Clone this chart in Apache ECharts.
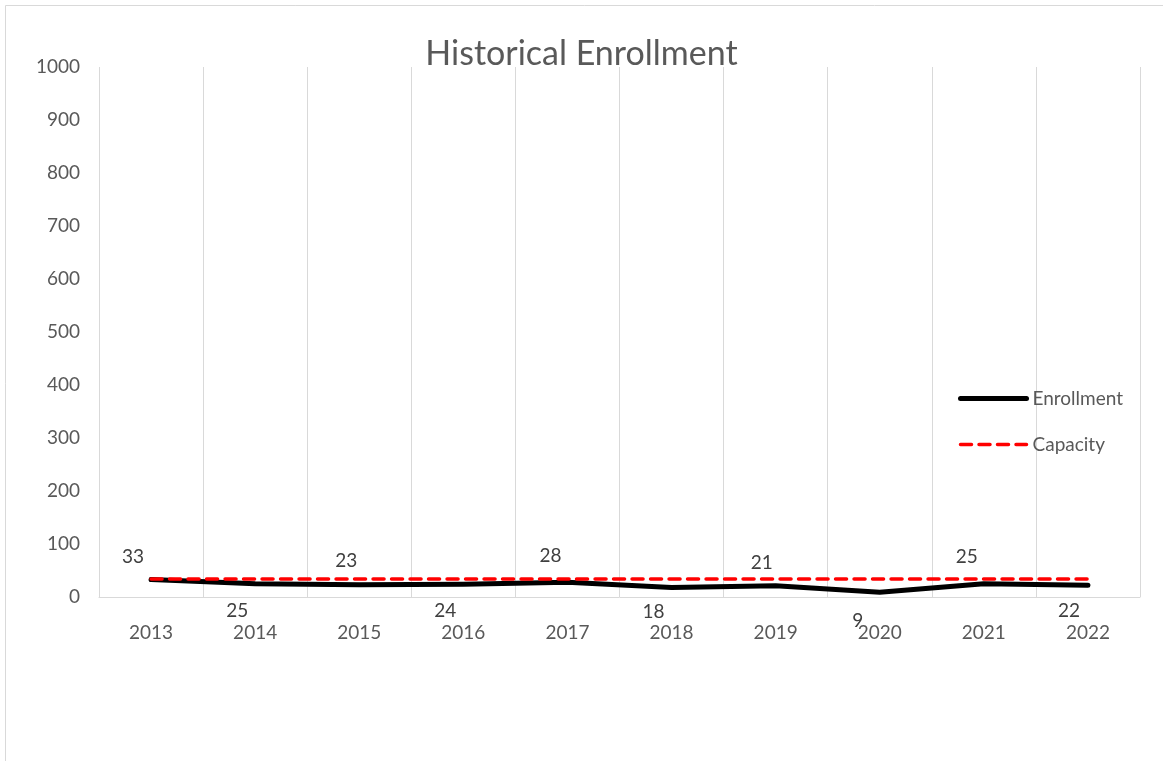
<!DOCTYPE html>
<html>
<head>
<meta charset="utf-8">
<script src="https://cdn.jsdelivr.net/npm/echarts@6/dist/echarts.min.js"></script>
<style>
html,body{margin:0;padding:0;background:#fff;}
#c{width:1163px;height:761px;}
</style>
</head>
<body>
<div id="c"></div>
<script>
const years = ['2013','2014','2015','2016','2017','2018','2019','2020','2021','2022'];
const enrollment = [33, 25, 23, 24, 28, 18, 21, 9, 25, 22];
const capacity = [34, 34, 34, 34, 34, 34, 34, 34, 34, 34];
const labelOffsets = [[-18,-23],[-18,27],[-13,-24],[-18,27],[-17,-26],[-18,24],[-14,-23],[-22,29],[-17,-27],[-19,26]];

const FONT = 'Lato';
const GREY = '#595959';

const chart = echarts.init(document.getElementById('c'));
chart.setOption({
  animation: false,
  backgroundColor: '#fff',
  graphic: [{
    type: 'rect', silent: true, z: -10,
    shape: {x: 5.5, y: 5.5, width: 1170, height: 780},
    style: {fill: 'none', stroke: '#d9d9d9', lineWidth: 1}
  }],
  title: {
    text: 'Historical Enrollment',
    left: 'center', top: 32,
    textStyle: {fontFamily: FONT, fontSize: 34, fontWeight: 'normal', color: GREY}
  },
  legend: {
    orient: 'vertical',
    left: 953, top: 384,
    itemWidth: 66, itemHeight: 14, itemGap: 27,
    itemStyle: {opacity: 0},
    lineStyle: {width: 'inherit', type: 'inherit', cap: 'round'},
    textStyle: {fontFamily: FONT, fontSize: 19, color: GREY, padding: [0,0,0,1]},
    data: [
      {name: 'Enrollment', itemStyle: {opacity: 0}, lineStyle: {width: 5, cap: 'round'}},
      {name: 'Capacity', itemStyle: {opacity: 0}, lineStyle: {width: 3.5, type: [11, 7.5], cap: 'round'}}
    ]
  },
  grid: {left: 99, right: 23, top: 67, bottom: 164, containLabel: false},
  xAxis: {
    type: 'category',
    data: years,
    boundaryGap: true,
    axisLine: {show: true, lineStyle: {color: '#d9d9d9', width: 1}},
    axisTick: {show: false},
    splitLine: {show: true, interval: 0, lineStyle: {color: '#d9d9d9', width: 1}},
    axisLabel: {fontFamily: FONT, fontSize: 19, color: GREY, margin: 26, interval: 0}
  },
  yAxis: {
    type: 'value',
    min: 0, max: 1000, interval: 100,
    axisLine: {show: false},
    axisTick: {show: false},
    splitLine: {show: false},
    axisLabel: {fontFamily: FONT, fontSize: 19, color: GREY, margin: 19, formatter: v => String(v)}
  },
  series: [
    {
      name: 'Enrollment',
      type: 'line',
      data: enrollment,
      symbol: 'none',
      itemStyle: {color: '#000'},
      lineStyle: {color: '#000', width: 5, cap: 'round', join: 'round'},
      z: 3
    },
    {
      name: 'Capacity',
      type: 'line',
      data: capacity,
      symbol: 'none',
      itemStyle: {color: '#ff0000'},
      lineStyle: {color: '#ff0000', width: 3.5, type: [11, 7.5], cap: 'round'},
      z: 4
    },
    {
      name: 'EnrollmentLabels',
      type: 'line',
      data: enrollment.map((v, i) => ({
        value: v,
        label: {offset: labelOffsets[i]}
      })),
      symbol: 'circle', symbolSize: 0.1, showSymbol: true,
      itemStyle: {color: '#000'},
      lineStyle: {opacity: 0, width: 0},
      label: {
        show: true, position: 'inside',
        fontFamily: FONT, fontSize: 19, color: '#404040'
      },
      silent: true,
      z: 5
    }
  ]
});
</script>
</body>
</html>
